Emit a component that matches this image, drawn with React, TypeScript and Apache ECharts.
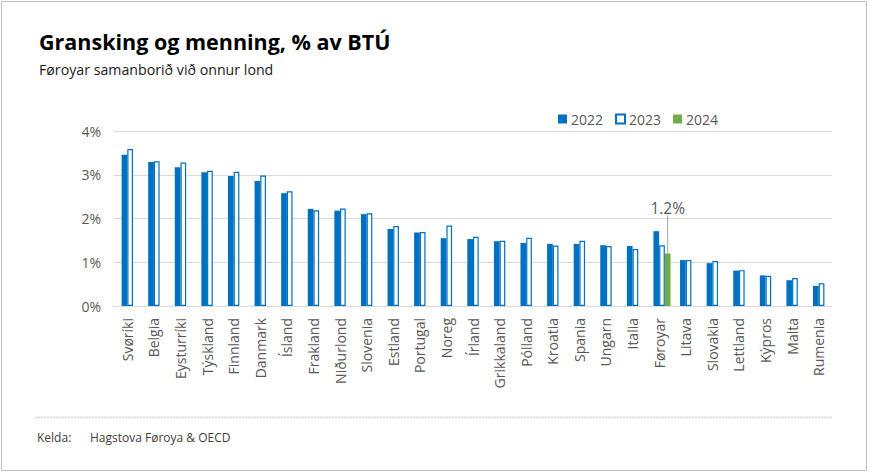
import React, { useEffect, useRef } from "react";
import * as echarts from "echarts";

const categories = [
  "Svøríki", "Belgia", "Eysturríki", "Týskland", "Finnland", "Danmark", "Ísland",
  "Frakland", "Niðurlond", "Slovenia", "Estland", "Portugal", "Noreg", "Írland",
  "Grikkaland", "Pólland", "Kroatia", "Spania", "Ungarn", "Italia", "Føroyar",
  "Litava", "Slovakia", "Lettland", "Kýpros", "Malta", "Rumenia",
];

const values2022 = [
  3.46, 3.29, 3.17, 3.06, 2.97, 2.86, 2.58, 2.22, 2.18, 2.10, 1.76, 1.68, 1.55, 1.53,
  1.48, 1.44, 1.42, 1.42, 1.39, 1.37, 1.71, 1.05, 0.98, 0.81, 0.70, 0.59, 0.46,
];

const values2023 = [
  3.59, 3.31, 3.28, 3.09, 3.07, 2.98, 2.62, 2.19, 2.23, 2.12, 1.83, 1.69, 1.84, 1.58,
  1.49, 1.56, 1.38, 1.49, 1.37, 1.30, 1.39, 1.05, 1.03, 0.82, 0.69, 0.64, 0.52,
];

const entries2024: [string, number][] = [["Føroyar", 1.2]];

const yTicks = [0, 1, 2, 3, 4];

const titleText = "Gransking og menning, % av BTÚ";
const subtitleText = "Føroyar samanborið við onnur lond";
const sourceLabel = "Kelda:";
const sourceText = "Hagstova Føroya & OECD";

export default function App() {
  const ref = useRef<HTMLDivElement>(null);

  useEffect(() => {
    const chart = echarts.init(ref.current!, null, { renderer: "svg" });
    const font = "'Open Sans', sans-serif";
    const gray = "#595959";
    const blue = "#0070c0";
    const green = "#70ad47";
    const barW = 5.7;

    const data2024 = categories.map((c) => {
      const e = entries2024.find((x) => x[0] === c);
      return e ? e[1] : null;
    });

    chart.setOption({
      animation: false,
      backgroundColor: "#ffffff",
      textStyle: { fontFamily: font },
      grid: { left: 114, right: 38, top: 131, bottom: 168, containLabel: false },
      legend: {
        data: ["2022", "2023", "2024"],
        left: 553,
        top: 107,
        itemWidth: 9,
        itemHeight: 9,
        itemGap: 12,
        icon: "rect",
        textStyle: { color: gray, fontSize: 14, fontFamily: font, padding: [0, 0, 0, -1] },
      },
      xAxis: [
        {
          type: "category",
          data: categories,
          axisTick: { show: false },
          axisLine: { show: true, lineStyle: { color: "#d9d9d9", width: 1 } },
          axisLabel: {
            rotate: 90,
            interval: 0,
            margin: 12,
            color: gray,
            fontSize: 14,
            fontFamily: font,
          },
        },
        {
          type: "category",
          data: categories,
          show: false,
          gridIndex: 0,
        },
      ],
      yAxis: {
        type: "value",
        min: yTicks[0],
        max: yTicks[yTicks.length - 1],
        interval: 1,
        axisLine: { show: false },
        axisTick: { show: false },
        splitLine: { lineStyle: { color: "#d9d9d9", width: 1 } },
        axisLabel: {
          formatter: "{value}%",
          color: gray,
          fontSize: 14,
          fontFamily: font,
          margin: 13,
        },
      },
      series: [
        {
          name: "2022",
          type: "bar",
          xAxisIndex: 0,
          data: values2022,
          barWidth: barW,
          barGap: "0%",
          itemStyle: { color: blue },
        },
        {
          name: "2023",
          type: "bar",
          xAxisIndex: 0,
          data: values2023,
          barWidth: barW,
          barGap: "0%",
          itemStyle: { color: "#ffffff", borderColor: blue, borderWidth: 1.2 },
        },
        {
          type: "bar",
          xAxisIndex: 1,
          data: categories.map(() => null),
          barWidth: barW * 3,
          barGap: "0%",
          silent: true,
          itemStyle: { color: "transparent" },
        },
        {
          name: "2024",
          type: "bar",
          xAxisIndex: 1,
          data: data2024,
          barWidth: barW,
          barGap: "0%",
          itemStyle: { color: green },
          label: {
            show: true,
            position: "top",
            distance: 5,
            formatter: (p: any) => (p.value == null ? "" : Number(p.value).toFixed(1) + "%"),
            color: gray,
            fontSize: 15.5,
            fontFamily: font,
          },
          labelLayout: { dy: -33 },
          labelLine: { show: true, lineStyle: { color: "#a6a6a6", width: 1 } },
        },
      ],
      graphic: [
        {
          type: "rect",
          shape: { x: 1.5, y: 1.5, width: 865, height: 469 },
          style: { fill: "none", stroke: "#c0c0c0", lineWidth: 1 },
          silent: true,
        },
        {
          type: "text",
          x: 39,
          y: 41,
          style: {
            text: titleText,
            fontSize: 21.5,
            fontWeight: "bold",
            fontFamily: font,
            fill: "#000000",
            verticalAlign: "middle",
          },
        },
        {
          type: "text",
          x: 39,
          y: 69,
          style: {
            text: subtitleText,
            fontSize: 14.2,
            fontFamily: font,
            fill: "#1a1a1a",
            verticalAlign: "middle",
          },
        },
        {
          type: "line",
          shape: { x1: 35, y1: 417.5, x2: 833, y2: 417.5 },
          style: { stroke: "#d4d4d4", lineWidth: 1.5, lineDash: [2, 1] },
          silent: true,
        },
        {
          type: "text",
          x: 37,
          y: 437,
          style: {
            text: sourceLabel,
            fontSize: 12,
            fontFamily: font,
            fill: "#404040",
            verticalAlign: "middle",
          },
        },
        {
          type: "text",
          x: 90,
          y: 437,
          style: {
            text: sourceText,
            fontSize: 12,
            fontFamily: font,
            fill: "#404040",
            verticalAlign: "middle",
          },
        },
      ],
    });

    return () => chart.dispose();
  }, []);

  return (
    <div
      ref={ref}
      style={{ position: "fixed", left: 0, top: 0, width: 870, height: 474, background: "#fff" }}
    />
  );
}
